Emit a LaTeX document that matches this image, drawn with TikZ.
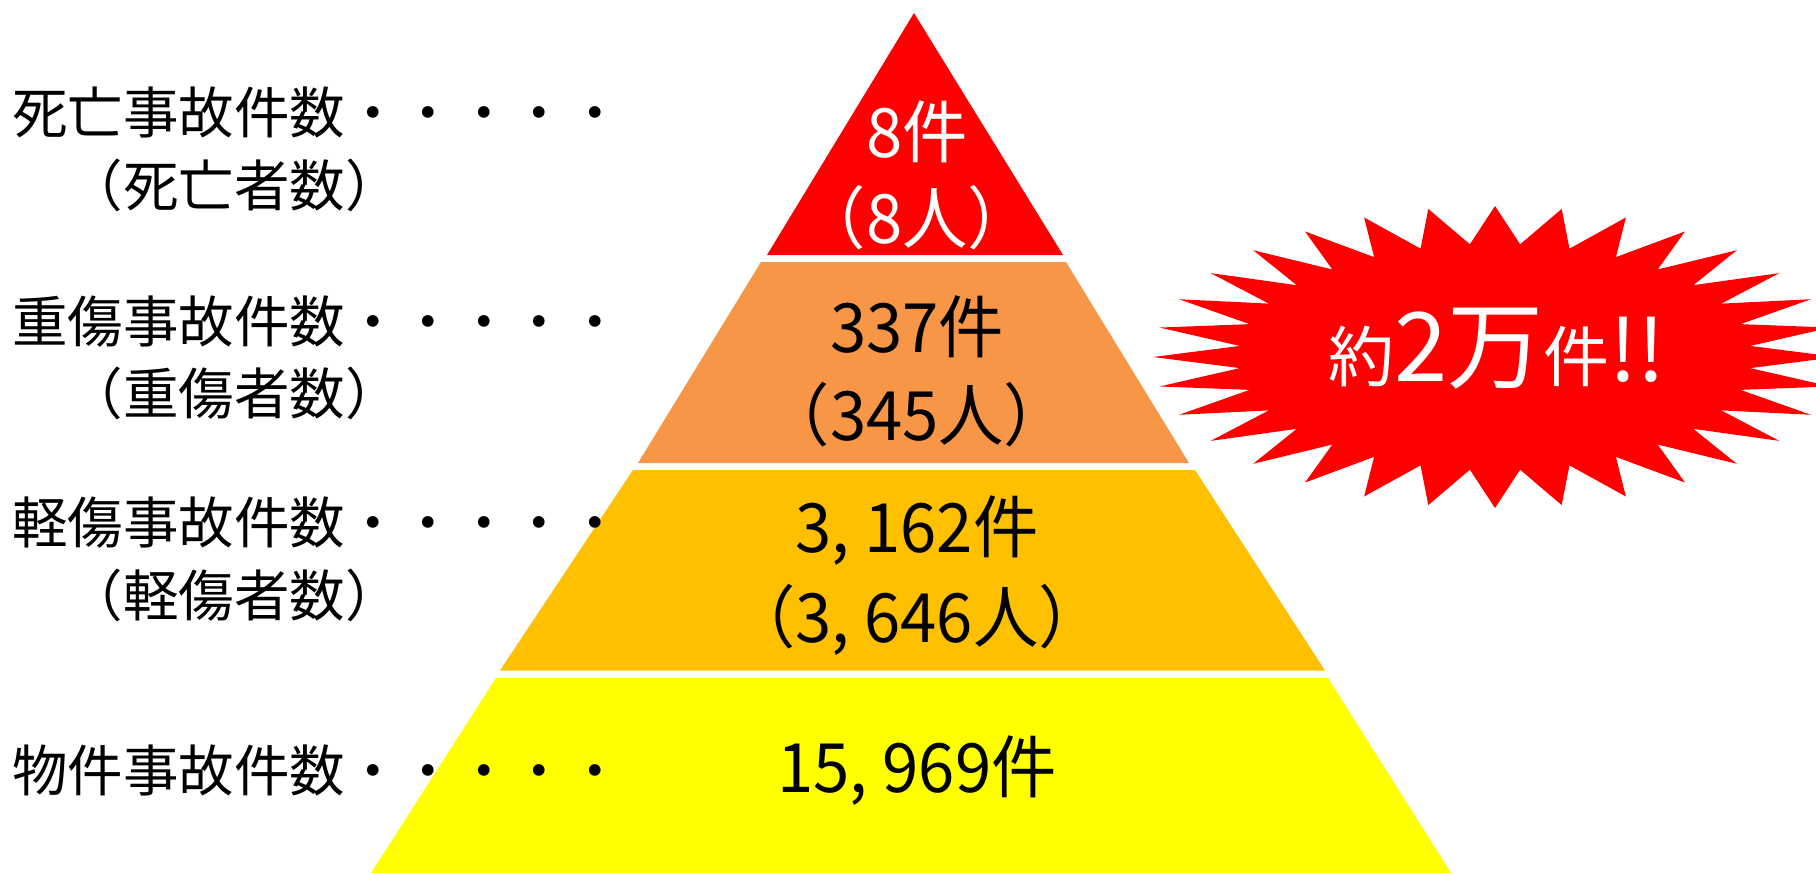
\documentclass[tikz,border=0pt]{standalone}
\usepackage{fontspec}
\setmainfont{Noto Sans CJK JP}
\definecolor{bandred}{HTML}{FF0000}
\definecolor{bandorange}{HTML}{F79646}
\definecolor{bandamber}{HTML}{FFC000}
\definecolor{bandyellow}{HTML}{FFFF00}
\begin{document}
\begin{tikzpicture}[x=0.5pt,y=-0.5pt,
  lbl/.style={anchor=base west, inner sep=0pt, font=\fontsize{27.75}{30}\selectfont},
  ptxt/.style={anchor=base, inner sep=0pt, font=\fontsize{34}{40}\selectfont\addfontfeature{FakeStretch=0.96}}]
\useasboundingbox (0,0) rectangle (1816,873);
\clip (0,0) rectangle (1816,873);
% pyramid bands
\fill[bandred] (914,13) -- (1063,255) -- (767,255) -- cycle;
\fill[bandorange] (761,262) -- (1066,262) -- (1189,463) -- (638,463) -- cycle;
\fill[bandamber] (633,470) -- (1195,470) -- (1325,670.5) -- (500,670.5) -- cycle;
\fill[bandyellow] (496,678) -- (1328,678) -- (1451,873) -- (371,873) -- cycle;
% starburst
\begin{scope}[shift={(1495,357)}, xscale=342, yscale=151]
\fill[bandred] (0:1) \foreach \i in {1,...,63}{ -- ({\i*5.625}:{1-0.25*mod(\i,2)}) } -- cycle;
\end{scope}
\node[anchor=base, inner sep=0pt, text=white] (burst) at (1497,381)
  {\fontsize{33}{36}\selectfont 約\fontsize{48}{52}\selectfont 2万\fontsize{33}{36}\selectfont 件\fontsize{43}{48}\selectfont !!};
% left labels
\node[lbl] (l1) at (12,133) {死亡事故件数・・・・・};
\node[lbl] (l2) at (12,206) {　（死亡者数）};
\node[lbl] (l3) at (12,342) {重傷事故件数・・・・・};
\node[lbl] (l4) at (12,414) {　（重傷者数）};
\node[lbl] (l5) at (12,543) {軽傷事故件数・・・・・};
\node[lbl] (l6) at (12,616) {　（軽傷者数）};
\node[lbl] (l7) at (12,791) {物件事故件数・・・・・};
% pyramid texts
\node[ptxt, text=white] (t1a) at (917,157) {8件};
\node[ptxt, text=white] (t1b) at (917,243) {（8人）};
\node[ptxt] (t2a) at (917,352) {337件};
\node[ptxt] (t2b) at (917,440) {（345人）};
\node[ptxt] (t3a) at (917,552) {3, 162件};
\node[ptxt] (t3b) at (917,642) {（3, 646人）};
\node[ptxt] (t4) at (917,792) {15, 969件};
\end{tikzpicture}
\end{document}
